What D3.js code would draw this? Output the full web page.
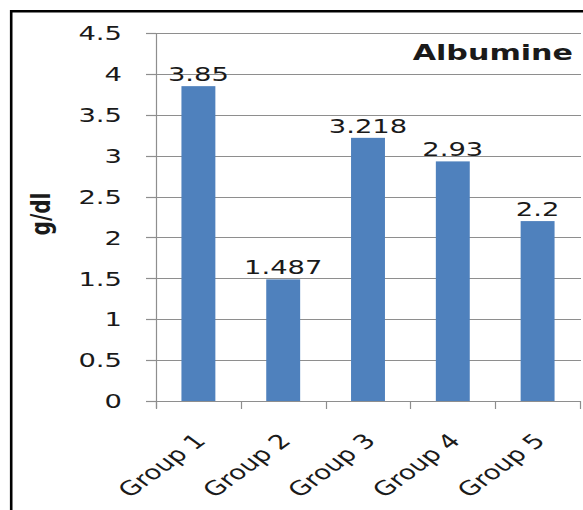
<!DOCTYPE html>
<html>
<head>
<meta charset="utf-8">
<script src="https://cdn.jsdelivr.net/npm/d3@7"></script>
<style>
  html, body { margin: 0; padding: 0; background: #fff; }
  svg { display: block; }
  text { font-family: "DejaVu Sans", Verdana, sans-serif; fill: #1a1a1a; }
</style>
</head>
<body>
<svg id="chart" width="583" height="510"></svg>
<script>
const categories = ["Group 1", "Group 2", "Group 3", "Group 4", "Group 5"];
const values = [3.85, 1.487, 3.218, 2.93, 2.2];
const valueLabels = ["3.85", "1.487", "3.218", "2.93", "2.2"];
const yTicks = [0, 0.5, 1, 1.5, 2, 2.5, 3, 3.5, 4, 4.5];
const yTickLabels = ["0", "0.5", "1", "1.5", "2", "2.5", "3", "3.5", "4", "4.5"];
const chartTitle = "Albumine";
const yTitle = "g/dl";

const W = 583, H = 510;
const sx = 1.37; // horizontal stretch of the original picture
const svg = d3.select("#chart");

// outer frame
svg.append("path")
  .attr("d", `M11.2,${H + 5} L11.2,11.2 L${W + 5},11.2`)
  .attr("fill", "none").attr("stroke", "#000").attr("stroke-width", 2.6);

const x = d3.scaleBand().domain(categories).range([156, 580])
  .paddingInner(0.6).paddingOuter(0.3);
const y = d3.scaleLinear().domain([0, 4.5]).range([401, 33]);

const gridColor = "#8e8e8e";

// gridlines
svg.append("g").selectAll("line").data(yTicks.filter(d => d > 0)).join("line")
  .attr("x1", 156).attr("x2", 581)
  .attr("y1", d => Math.round(y(d)) + 0.5).attr("y2", d => Math.round(y(d)) + 0.5)
  .attr("stroke", gridColor).attr("stroke-width", 1.2);

// y axis ticks
svg.append("g").selectAll("line").data(yTicks).join("line")
  .attr("x1", 146).attr("x2", 156)
  .attr("y1", d => Math.round(y(d)) + 0.5).attr("y2", d => Math.round(y(d)) + 0.5)
  .attr("stroke", gridColor).attr("stroke-width", 1.2);

// y axis line
svg.append("line").attr("x1", 156.5).attr("x2", 156.5)
  .attr("y1", y(4.5)).attr("y2", y(0) + 7)
  .attr("stroke", gridColor).attr("stroke-width", 1.2);

// x axis line
svg.append("line").attr("x1", 156).attr("x2", 581)
  .attr("y1", Math.round(y(0)) + 0.5).attr("y2", Math.round(y(0)) + 0.5)
  .attr("stroke", gridColor).attr("stroke-width", 1.2);

// x axis ticks at category boundaries
const boundaries = d3.range(categories.length + 1).map(i => x.range()[0] + i * x.step());
svg.append("g").selectAll("line").data(boundaries).join("line")
  .attr("x1", d => Math.round(d) + 0.5).attr("x2", d => Math.round(d) + 0.5)
  .attr("y1", y(0)).attr("y2", y(0) + 8)
  .attr("stroke", gridColor).attr("stroke-width", 1.2);

// y tick labels
svg.append("g").selectAll("text").data(yTicks).join("text")
  .attr("transform", d => `translate(122,${y(d)}) scale(${sx},1)`)
  .attr("dy", "0.36em")
  .attr("text-anchor", "end")
  .attr("font-size", 20)
  .text((d, i) => yTickLabels[i]);

// bars
svg.append("g").selectAll("rect").data(values).join("rect")
  .attr("x", (d, i) => x(categories[i]))
  .attr("width", x.bandwidth())
  .attr("y", d => y(d))
  .attr("height", d => y(0) - y(d))
  .attr("fill", "#4f81bd");

// value labels
svg.append("g").selectAll("text").data(values).join("text")
  .attr("transform", (d, i) => `translate(${x(categories[i]) + x.bandwidth() / 2},${y(d) - 5}) scale(${sx},1)`)
  .attr("text-anchor", "middle")
  .attr("font-size", 20)
  .text((d, i) => valueLabels[i]);

// x category labels
svg.append("g").selectAll("text").data(categories).join("text")
  .attr("transform", d => `translate(${x(d) + x.bandwidth() / 2 + 2},${y(0) + 36}) scale(${sx},1) rotate(-45)`)
  .attr("text-anchor", "end")
  .attr("dy", "0.35em")
  .attr("font-size", 20)
  .text(d => d);

// title
svg.append("text")
  .attr("transform", `translate(573,60) scale(${sx},1)`)
  .attr("text-anchor", "end")
  .attr("font-size", 22)
  .attr("font-weight", "bold")
  .text(chartTitle);

// y title
svg.append("text")
  .attr("transform", `translate(40,214) scale(${sx},1) rotate(-90)`)
  .attr("text-anchor", "middle")
  .attr("dy", "0.35em")
  .attr("font-size", 20)
  .attr("font-weight", "bold")
  .text(yTitle);
</script>
</body>
</html>
